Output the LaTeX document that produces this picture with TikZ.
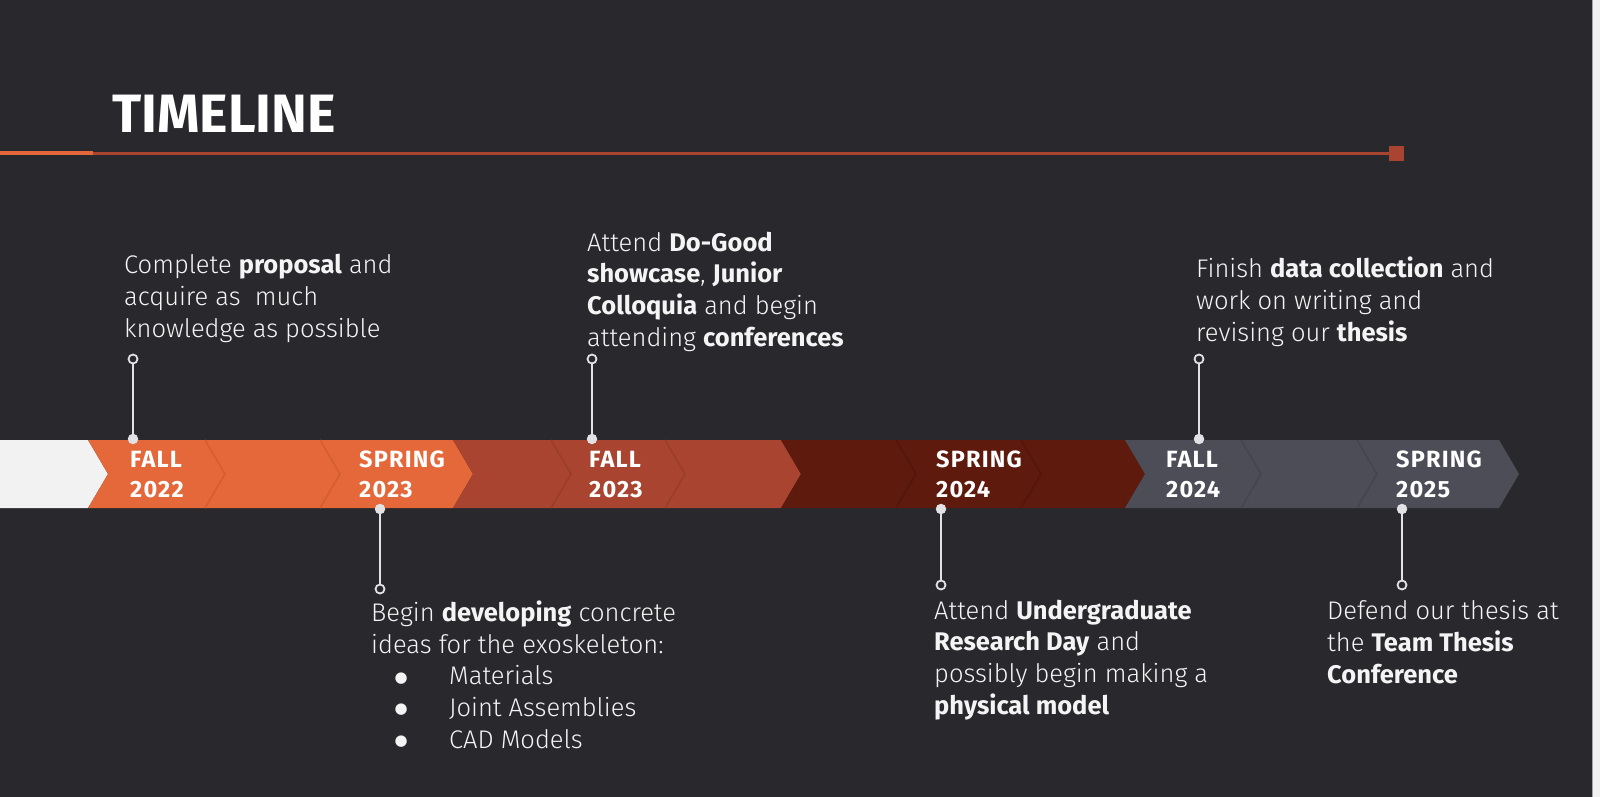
\documentclass[tikz,border=0pt]{standalone}
\usepackage{fontspec}
\setmainfont{Fira Sans}[UprightFont=* Light, BoldFont=* Bold]
\newfontfamily\dejavu{DejaVu Sans}
\newfontfamily\yrfont{Fira Sans Bold}[LetterSpace=5]
\definecolor{bg}{HTML}{28282D}
\definecolor{orng}{HTML}{E4683A}
\definecolor{orngs}{HTML}{D35E33}
\definecolor{dorng}{HTML}{A8442F}
\definecolor{dorngs}{HTML}{9A3D2A}
\definecolor{dred}{HTML}{5E1A0D}
\definecolor{dreds}{HTML}{53160B}
\definecolor{slate}{HTML}{4D4D58}
\definecolor{slates}{HTML}{45454F}
\definecolor{wseg}{HTML}{F2F2F2}
\definecolor{txt}{HTML}{F4F4F4}
\definecolor{conn}{HTML}{E2E2E4}
\newcommand{\bul}{\raisebox{2.5pt}{\dejavu\fontsize{15}{15}\selectfont ●}}
\newcommand{\itm}[1]{\hspace*{24pt}\makebox[12pt]{\bul}\hspace*{42pt}#1}
\tikzset{
  blk/.style={anchor=base west, inner sep=0pt, align=left, text=txt,
    font=\fontsize{25.5}{31.6}\selectfont},
  yr/.style={anchor=base west, inner sep=0pt, align=left, text=white,
    font=\yrfont\fontsize{23.5}{30}\selectfont},
  dotf/.style={circle, fill=conn, inner sep=0pt, minimum size=10.5pt},
  doto/.style={circle, draw=conn, fill=bg, line width=1.8pt, inner sep=0pt, minimum size=9pt},
  link/.style={draw=conn, line width=1.8pt},
  seam/.style={line width=1.6pt, line join=miter},
}
\begin{document}
\begin{tikzpicture}[x=1pt, y=-1pt]
\useasboundingbox (0,0) rectangle (1600,797);
\fill[bg] (0,0) rectangle (1600,797);
% right edge strip
\fill[wseg] (1592,0) rectangle (1600,797);
\draw[gray!70, line width=0.8pt] (1592,0) -- (1592,797);

% title
\node[anchor=base west, inner sep=0pt, text=white, font=\bfseries\fontsize{54}{54}\selectfont] (title) at (112,132) {TIMELINE};
\fill[orng] (0,151) rectangle (93,155);
\fill[dorng] (93,151.5) rectangle (1390,154.5);
\node[fill=dorng, inner sep=0pt, minimum size=15pt] (endsq) at (1396,153) {};

% bar segments (top 440, bottom 508, mid 474, tip depth 20)
\fill[wseg] (0,440) -- (88,440) -- (108,474) -- (88,508) -- (0,508) -- cycle;
\fill[orng] (88,440) -- (453,440) -- (473,474) -- (453,508) -- (88,508) -- (108,474) -- cycle;
\fill[dorng] (453,440) -- (781,440) -- (801,474) -- (781,508) -- (453,508) -- (473,474) -- cycle;
\fill[dred] (781,440) -- (1125,440) -- (1145,474) -- (1125,508) -- (781,508) -- (801,474) -- cycle;
\fill[slate] (1125,440) -- (1499,440) -- (1519,474) -- (1499,508) -- (1125,508) -- (1145,474) -- cycle;
% seams
\draw[seam, orngs] (205,440) -- (225,474) -- (205,508);
\draw[seam, orngs] (320,440) -- (340,474) -- (320,508);
\draw[seam, dorngs] (551,440) -- (571,474) -- (551,508);
\draw[seam, dorngs] (665,440) -- (685,474) -- (665,508);
\draw[seam, dreds] (896,440) -- (916,474) -- (896,508);
\draw[seam, dreds] (1021,440) -- (1041,474) -- (1021,508);
\draw[seam, slates] (1241,440) -- (1261,474) -- (1241,508);
\draw[seam, slates] (1357,440) -- (1377,474) -- (1357,508);

% year labels (anchor = baseline of last line)
\node[yr] (y1) at (130,497) {FALL\\2022};
\node[yr] (y2) at (359,497) {SPRING\\2023};
\node[yr] (y3) at (589,497) {FALL\\2023};
\node[yr] (y4) at (936,497) {SPRING\\2024};
\node[yr] (y5) at (1166,497) {FALL\\2024};
\node[yr] (y6) at (1396,497) {SPRING\\2025};

% connectors top
\node[dotf] (d1) at (133,439) {};
\node[doto] (o1) at (133,359) {};
\draw[link] (d1) -- (o1);
\node[dotf] (d3) at (592,439) {};
\node[doto] (o3) at (592,359) {};
\draw[link] (d3) -- (o3);
\node[dotf] (d5) at (1199,439) {};
\node[doto] (o5) at (1199,359) {};
\draw[link] (d5) -- (o5);
% connectors bottom
\node[dotf] (d2) at (380,509) {};
\node[doto] (o2) at (380,589) {};
\draw[link] (d2) -- (o2);
\node[dotf] (d4) at (941,509) {};
\node[doto] (o4) at (941,585) {};
\draw[link] (d4) -- (o4);
\node[dotf] (d6) at (1402,509) {};
\node[doto] (o6) at (1402,585) {};
\draw[link] (d6) -- (o6);

% text blocks (anchor = baseline of last line)
\node[blk] (t1) at (124,337) {Complete \textbf{proposal} and\\acquire as\ \ much\\knowledge as possible};
\node[blk] (t3) at (587,346) {Attend \textbf{Do-Good}\\\textbf{showcase}, \textbf{Junior}\\\textbf{Colloquia} and begin\\attending \textbf{conferences}};
\node[blk] (t5) at (1196,341) {Finish \textbf{data collection} and\\work on writing and\\revising our \textbf{thesis}};
\node[blk] (t2) at (371,748) {Begin \textbf{developing} concrete\\ideas for the exoskeleton:\\\itm{Materials}\\\itm{Joint Assemblies}\\\itm{CAD Models}};
\node[blk] (t4) at (934,714) {Attend \textbf{Undergraduate}\\\textbf{Research Day} and\\possibly begin making a\\\textbf{physical model}};
\node[blk] (t6) at (1327,683) {Defend our thesis at\\the \textbf{Team Thesis}\\\textbf{Conference}};
\end{tikzpicture}
\end{document}
